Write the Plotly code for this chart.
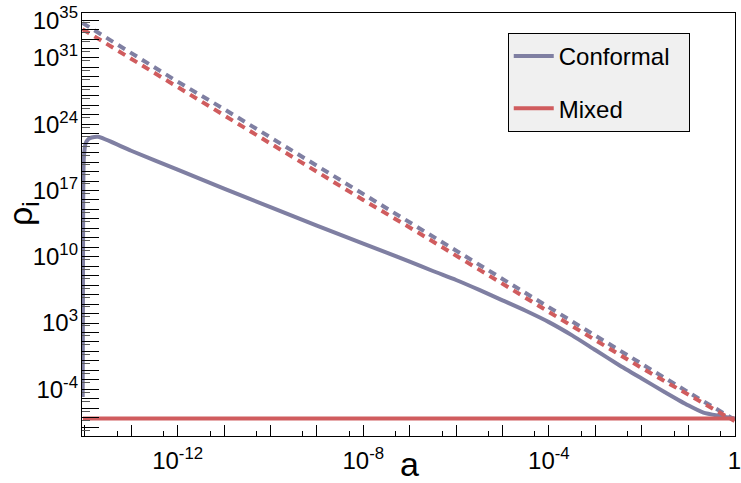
import plotly.graph_objects as go

# ---------------- data (log10 values) ----------------
# Conformal, solid
conf_loga = [-14.045, -14.04, -14.035, -14.02, -13.98, -13.92, -13.85, -13.71,
             -13.0, -12.0, -11.0, -10.0, -9.0, -8.0, -7.0, -6.5, -6.0, -5.5,
             -5.0, -4.5, -4.0, -3.5, -3.0, -2.5, -2.0, -1.5, -1.0, -0.67,
             -0.31, 0.0]
conf_logrho = [-4.8, 5.0, 15.0, 20.5, 22.0, 22.45, 22.6, 22.67,
               21.2, 19.2, 17.2, 15.25, 13.3, 11.4, 9.5, 8.5, 7.55, 6.5,
               5.4, 4.3, 3.1, 1.7, 0.15, -1.4, -2.86, -4.3, -5.69, -6.46,
               -6.82, -7.09]

# Mixed, solid
mixed_loga = [-14.04, -10.0, -5.0, 0.0]
mixed_logrho = [-7.09, -7.09, -7.09, -7.09]

# Dashed companions (matter-like component)
dash_loga = [-14.05, -13, -12, -11, -10, -9, -8, -7, -6, -5, -4, -3, -2, -1, 0]
conf_dash_logrho = [34.7, 31.5, 28.5, 25.6, 22.6, 19.6, 16.6, 13.7, 10.7, 7.7,
                    4.7, 1.7, -1.3, -4.3, -7.2]
mixed_dash_logrho = [34.05, 30.9, 27.9, 25.0, 22.0, 19.0, 16.0, 13.1, 10.1, 7.15,
                     4.15, 1.2, -1.75, -4.6, -7.35]

# tick labels
x_label_exps = [-12, -8, -4, 0]
x_label_text = ["10<sup>-12</sup>", "10<sup>-8</sup>", "10<sup>-4</sup>", "1"]
y_label_exps = [-4, 3, 10, 17, 24, 31, 35]
y_label_text = ["10<sup>-4</sup>", "10<sup>3</sup>", "10<sup>10</sup>", "10<sup>17</sup>",
                "10<sup>24</sup>", "10<sup>31</sup>", "10<sup>35</sup>"]

CONF = "rgb(127,127,162)"
MIX = "rgb(208,92,94)"
FONT = "Liberation Sans, Arial, Helvetica, sans-serif"
XR = [-14.06, 0.01]
YR = [-8.93, 35.75]
PAD = "\u00a0" * 2


def pw(v):
    return [10.0 ** t for t in v]


fig = go.Figure()
fig.add_trace(go.Scatter(x=pw(dash_loga), y=pw(conf_dash_logrho), mode="lines",
                         line=dict(color=CONF, width=4, dash="8px,6px"),
                         showlegend=False))
fig.add_trace(go.Scatter(x=pw(dash_loga), y=pw(mixed_dash_logrho), mode="lines",
                         line=dict(color=MIX, width=4, dash="8px,6px"),
                         showlegend=False, xaxis="x2", yaxis="y2"))
fig.add_trace(go.Scatter(x=pw(conf_loga), y=pw(conf_logrho), mode="lines",
                         name="Conformal" + PAD, legendgroup="c",
                         line=dict(color=CONF, width=4, shape="spline", smoothing=0.6)))
fig.add_trace(go.Scatter(x=pw(mixed_loga), y=pw(mixed_logrho), mode="lines",
                         name="Mixed", legendgroup="m",
                         line=dict(color=MIX, width=4), xaxis="x2", yaxis="y2"))

# tick positions: every decade, minor at 5x10^n
x_dec = [10.0 ** e for e in range(-14, 1)]
y_dec = [10.0 ** e for e in range(-8, 36)]
x_minor = [5 * 10.0 ** e for e in range(-15, 0)]
y_minor = [5 * 10.0 ** e for e in range(-9, 36)]

common = dict(type="log", showgrid=False, zeroline=False, automargin=False)

fig.update_layout(
    xaxis=dict(**common, range=XR, tickmode="array", tickvals=x_dec,
               showticklabels=False,
               ticks="inside", ticklen=11, tickwidth=1, tickcolor="black",
               minor=dict(tickvals=x_minor, ticks="inside", ticklen=5,
                          tickwidth=1, tickcolor="black", showgrid=False),
               showline=True, linecolor="black", linewidth=1, mirror=True),
    yaxis=dict(**common, range=YR, tickmode="array", tickvals=y_dec,
               showticklabels=False,
               ticks="inside", ticklen=17, tickwidth=1, tickcolor="black",
               minor=dict(tickvals=y_minor, ticks="inside", ticklen=8,
                          tickwidth=1, tickcolor="rgb(90,90,90)", showgrid=False),
               showline=True, linecolor="black", linewidth=1, mirror=True),
    xaxis2=dict(**common, range=XR, overlaying="x", anchor="y2", side="bottom",
                tickmode="array", tickvals=pw(x_label_exps), ticktext=x_label_text,
                ticks="", showline=False, ticklabeloverflow="allow",
                ticklabelstandoff=8,
                tickfont=dict(family=FONT, size=24, color="black")),
    yaxis2=dict(**common, range=YR, overlaying="y", anchor="x2", side="left",
                tickmode="array", tickvals=pw(y_label_exps), ticktext=y_label_text,
                ticks="", showline=False, ticklabeloverflow="allow",
                ticklabelstandoff=3,
                tickfont=dict(family=FONT, size=24, color="black")),
    width=741, height=483,
    margin=dict(l=82, r=6, t=13, b=47, pad=0),
    paper_bgcolor="white", plot_bgcolor="white",
    font=dict(family=FONT, color="black"),
    showlegend=True,
    legend=dict(x=0.652, y=0.953, xanchor="left", yanchor="top",
                bgcolor="rgb(240,240,240)", bordercolor="black", borderwidth=1,
                font=dict(family=FONT, size=24, color="black"),
                tracegroupgap=18, itemwidth=40, traceorder="grouped"),
    annotations=[
        dict(text="a", xref="paper", yref="paper", x=0.502, y=-0.066,
             xanchor="center", yanchor="middle", showarrow=False,
             font=dict(family=FONT, size=34, color="black")),
        dict(text="ρ<sub>i</sub>", xref="paper", yref="paper", x=-0.092, y=0.527,
             xanchor="center", yanchor="middle", textangle=-90, showarrow=False,
             font=dict(family=FONT, size=34, color="black")),
    ],
)

fig.write_html("out.html", config={"displayModeBar": False},
               post_script="document.body.style.margin='0px';document.body.style.overflow='hidden';")
